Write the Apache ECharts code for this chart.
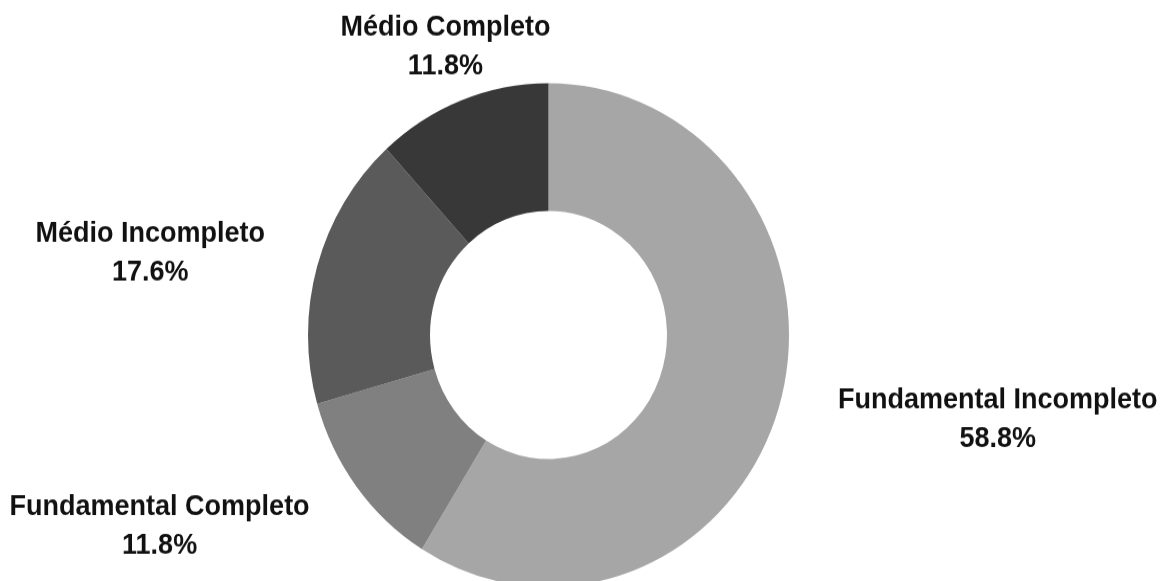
<!DOCTYPE html>
<html>
<head>
<meta charset="utf-8">
<script src="https://cdn.jsdelivr.net/npm/echarts@6/dist/echarts.min.js"></script>
<style>
  html, body { margin: 0; padding: 0; background: #ffffff; overflow: hidden; }
  #wrap { width: 1160px; height: 581px; overflow: hidden; }
  /* the donut is drawn slightly taller than wide */
  #chart { width: 1160px; height: 555px; transform: scaleY(1.0468); transform-origin: 0 0; }
</style>
</head>
<body>
<div id="wrap"><div id="chart"></div></div>
<script>
// Escolaridade: participants by schooling level
const categories = ['Fundamental Incompleto', 'Fundamental Completo', 'Médio Incompleto', 'Médio Completo'];
const counts = [10, 2, 3, 2];
const sliceColors = ['#a6a6a6', '#808080', '#5a5a5a', '#383838'];

// per-slice nudges of the outside labels [dx, dy]
const labelNudge = [[14, 10], [-6, 26], [-8, -7], [121, -32]];

const data = categories.map((name, i) => ({
  name: name,
  value: counts[i],
  itemStyle: { color: sliceColors[i] }
}));

const chart = echarts.init(document.getElementById('chart'), null, { renderer: 'canvas' });
chart.setOption({
  animation: false,
  backgroundColor: '#ffffff',
  series: [{
    type: 'pie',
    center: [548.5, 320],
    radius: [118.5, 240.5],
    startAngle: 90,
    clockwise: true,
    avoidLabelOverlap: false,
    itemStyle: { borderWidth: 0 },
    label: {
      show: true,
      position: 'outside',
      alignTo: 'none',
      distanceToLabelLine: 5,
      formatter: p => '{t|' + p.name + '}\n{t|' + p.percent.toFixed(1) + '%}',
      rich: {
        t: {
          align: 'center',
          fontFamily: 'Liberation Sans, Arial, sans-serif',
          fontWeight: 'bold',
          fontSize: 27,
          lineHeight: 37,
          color: '#111111'
        }
      }
    },
    labelLine: { show: false, length: 20, length2: 20 },
    labelLayout: function (params) {
      const n = labelNudge[params.dataIndex];
      return { dx: n[0], dy: n[1] };
    },
    emphasis: { disabled: true },
    data: data
  }]
});
</script>
</body>
</html>
